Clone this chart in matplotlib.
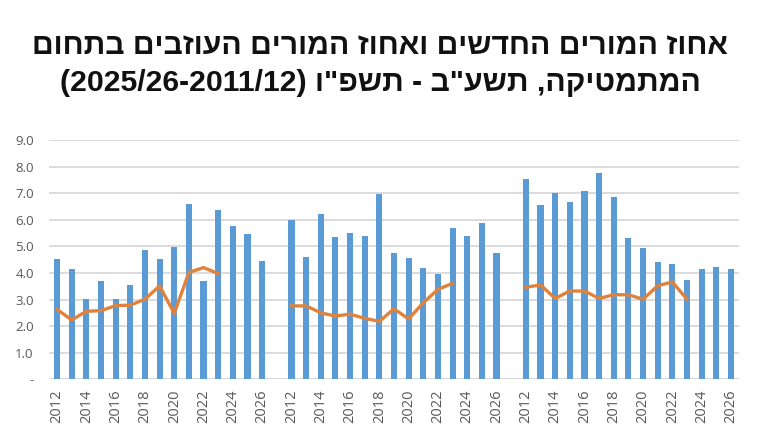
import matplotlib
matplotlib.use("Agg")
import matplotlib.pyplot as plt
import numpy as np

years = ["2012", "2013", "2014", "2015", "2016", "2017", "2018", "2019",
         "2020", "2021", "2022", "2023", "2024", "2025", "2026"]

bars_g1 = [4.51, 4.15, 3.03, 3.68, 3.01, 3.55, 4.87, 4.53, 4.99, 6.60, 3.71, 6.35, 5.78, 5.47, 4.45]
line_g1 = [2.63, 2.23, 2.56, 2.58, 2.77, 2.79, 3.01, 3.51, 2.48, 4.02, 4.20, 3.98]

bars_g2 = [6.00, 4.60, 6.23, 5.35, 5.52, 5.39, 6.97, 4.74, 4.56, 4.17, 3.95, 5.68, 5.39, 5.89, 4.74]
line_g2 = [2.76, 2.76, 2.50, 2.38, 2.45, 2.29, 2.18, 2.65, 2.27, 2.88, 3.38, 3.61]

bars_g3 = [7.53, 6.56, 6.99, 6.65, 7.08, 7.77, 6.85, 5.30, 4.92, 4.41, 4.32, 3.73, 4.13, 4.22, 4.13]
line_g3 = [3.46, 3.55, 3.04, 3.32, 3.32, 3.04, 3.18, 3.18, 3.01, 3.52, 3.66, 3.01]

yticks = [0, 1, 2, 3, 4, 5, 6, 7, 8, 9]
ytick_labels = ["-", "1.0", "2.0", "3.0", "4.0", "5.0", "6.0", "7.0", "8.0", "9.0"]

title_line1 = "אחוז המורים החדשים ואחוז המורים העוזבים בתחום"
title_line2_heb = 'המתמטיקה, תשע"ב - תשפ"ו'
title_line2_num = "(2025/26-2011/12)"

BLUE = "#5B9BD5"
ORANGE = "#E0823C"
GRID = "#D9D9D9"
TICK = "#595959"

W, H = 760, 426
fig = plt.figure(figsize=(W / 100, H / 100), dpi=100)
fig.patch.set_facecolor("white")

left, right = 49, 739
top_y, bot_y = 140, 379.3
ax = fig.add_axes([left / W, (H - bot_y) / H, (right - left) / W, (bot_y - top_y) / H])

groups = [(bars_g1, line_g1), (bars_g2, line_g2), (bars_g3, line_g3)]
tick_pos = []
tick_lab = []
for gi, (bv, lv) in enumerate(groups):
    start = gi * (len(years) + 1)
    xs = np.arange(len(bv)) + start
    ax.bar(xs, bv, width=0.42, color=BLUE, zorder=2)
    ax.plot(xs[:len(lv)], lv, color=ORANGE, lw=2.4, zorder=3, solid_joinstyle="round")
    for k in range(0, len(years), 2):
        tick_pos.append(start + k)
        tick_lab.append(years[k])

ax.set_xlim(-0.55, 46.55)
ax.set_ylim(0, 9)
ax.set_yticks(yticks)
ax.set_yticklabels(ytick_labels, fontsize=9.5, color=TICK, family=["Open Sans", "DejaVu Sans"])
ax.set_xticks(tick_pos)
ax.set_xticklabels(tick_lab, rotation=90, fontsize=10.5, color=TICK, va="top",
                   family=["Open Sans", "DejaVu Sans"])
ax.tick_params(axis="y", length=0, pad=11)
ax.tick_params(axis="x", length=0, pad=7)
ax.yaxis.grid(True, color=GRID, lw=1.3, zorder=0)
ax.set_axisbelow(True)
for s in ax.spines.values():
    s.set_visible(False)
ax.axhline(0, color=GRID, lw=1.5, zorder=1)

tfam = ["Liberation Sans", "DejaVu Sans"]
fig.text(0.5, 1 - 46 / H, title_line1[::-1], ha="center", va="center",
         fontsize=21.7, fontweight="bold", family=tfam, color="#111111")
fig.text(0.5, 1 - 83 / H, title_line2_num + " " + title_line2_heb[::-1], ha="center", va="center",
         fontsize=21.7, fontweight="bold", family=tfam, color="#111111")

fig.savefig("out.png", dpi=100, facecolor="white")
